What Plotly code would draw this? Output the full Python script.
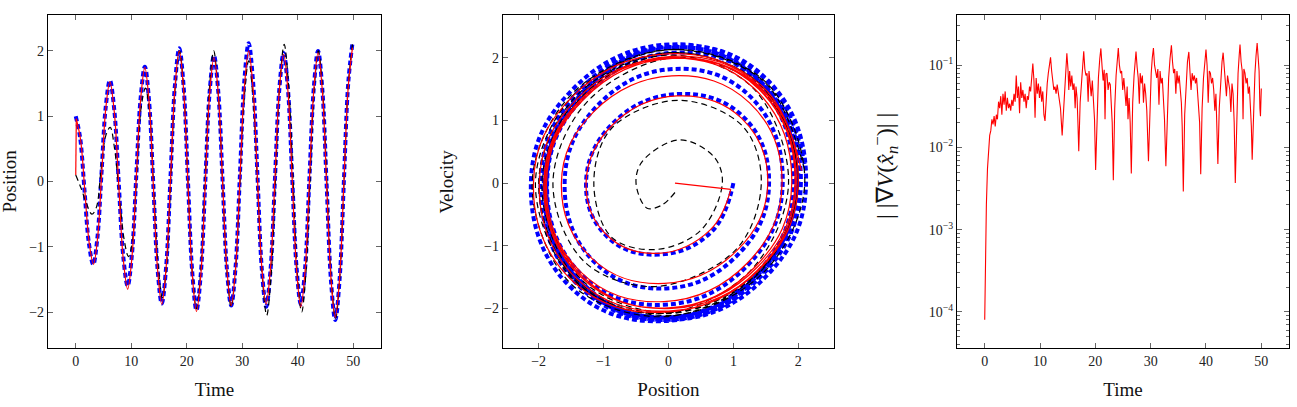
import plotly.graph_objects as go

# ---------------- data ----------------
# true trajectory (blue, thick dashed)
true_time = [0, 0.79, 1.58, 2.36, 3.15,
             3.9, 4.65, 5.4, 6.15,
             6.95, 7.75, 8.55, 9.35,
             10.13, 10.9, 11.68, 12.45,
             13.21, 13.98, 14.74, 15.5,
             16.29, 17.08, 17.86, 18.65,
             19.43, 20.2, 20.98, 21.75,
             22.54, 23.33, 24.11, 24.9,
             25.68, 26.45, 27.23, 28.0,
             28.79, 29.58, 30.36, 31.15,
             31.94, 32.73, 33.51, 34.3,
             35.09, 35.88, 36.66, 37.45,
             38.23, 39.0, 39.78, 40.55,
             41.33, 42.1, 42.88, 43.65,
             44.43, 45.2, 45.98, 46.75,
             47.53, 48.3, 49.08, 49.85]
true_pos = [1.0, 0.67, -0.14, -0.94, -1.27,
            -0.86, 0.14, 1.14, 1.55,
            1.09, -0.03, -1.14, -1.60,
            -1.11, 0.08, 1.27, 1.76,
            1.23, -0.06, -1.34, -1.87,
            -1.30, 0.09, 1.47, 2.04,
            1.46, 0.04, -1.38, -1.97,
            -1.40, -0.02, 1.36, 1.93,
            1.37, 0.02, -1.34, -1.90,
            -1.31, 0.11, 1.53, 2.12,
            1.53, 0.10, -1.33, -1.92,
            -1.35, 0.03, 1.40, 1.97,
            1.41, 0.05, -1.32, -1.88,
            -1.31, 0.06, 1.43, 2.00,
            1.40, -0.06, -1.52, -2.12,
            -1.50, 0.00, 1.50, 2.12]
true_vel = [0.0, -0.77, -1.14, -0.86, 0.0,
            0.95, 1.42, 1.07, 0.0,
            -1.12, -1.68, -1.26, 0.0,
            1.22, 1.82, 1.37, 0.0,
            -1.30, -1.94, -1.46, 0.0,
            1.38, 2.08, 1.57, 0.0,
            -1.45, -2.18, -1.64, 0.0,
            1.45, 2.17, 1.62, 0.0,
            -1.43, -2.14, -1.60, 0.0,
            1.46, 2.19, 1.64, 0.0,
            -1.46, -2.18, -1.64, 0.0,
            1.45, 2.17, 1.62, 0.0,
            -1.43, -2.14, -1.60, 0.0,
            1.43, 2.16, 1.61, 0.0,
            -1.47, -2.20, -1.65, 0.0,
            1.47, 2.21, 1.65, 0.2]

# prior / predicted trajectory (black, dashed)
prior_time = [0, 0.95, 1.9, 2.9,
              3.7, 4.55, 5.4, 6.2,
              7.0, 7.85, 8.7, 9.5,
              10.25, 11.0, 11.8, 12.55,
              13.3, 14.1, 14.85, 15.6,
              16.4, 17.15, 17.9, 18.7,
              19.45, 20.2, 20.98, 21.75,
              22.53, 23.3, 24.08, 24.85,
              25.63, 26.43, 27.2, 28.0,
              28.79, 29.58, 30.36, 31.15,
              31.96, 32.78, 33.59, 34.4,
              35.19, 35.98, 36.76, 37.55,
              38.34, 39.13, 39.91, 40.7,
              41.45, 42.2, 42.95, 43.7,
              44.48, 45.25, 46.03, 46.8,
              47.56, 48.33, 49.09, 49.85]
prior_pos = [0.10, -0.10, -0.33, -0.50,
             -0.40, 0.17, 0.70, 0.83,
             0.50, -0.20, -0.88, -1.15,
             -0.88, 0.15, 1.15, 1.43,
             1.05, -0.20, -1.30, -1.78,
             -1.25, 0.10, 1.43, 2.00,
             1.41, 0.03, -1.38, -1.95,
             -1.36, 0.03, 1.42, 2.00,
             1.40, 0.04, -1.33, -1.92,
             -1.34, -0.04, 1.29, 1.85,
             1.26, -0.10, -1.44, -2.05,
             -1.44, 0.03, 1.50, 2.10,
             1.47, 0.05, -1.40, -2.00,
             -1.41, 0.00, 1.41, 2.00,
             1.40, -0.05, -1.50, -2.10,
             -1.48, 0.00, 1.48, 2.10]
prior_vel = [-0.15, -0.35, -0.40, 0.0,
             0.35, 0.69, 0.42, 0.0,
             -0.75, -1.06, -0.86, 0.0,
             0.87, 1.32, 0.90, 0.0,
             -1.05, -1.65, -1.25, 0.0,
             1.30, 2.00, 1.50, 0.0,
             -1.40, -2.08, -1.57, 0.0,
             1.40, 2.08, 1.57, 0.0,
             -1.38, -2.06, -1.55, 0.0,
             1.37, 2.04, 1.53, 0.0,
             -1.40, -2.08, -1.57, 0.0,
             1.43, 2.13, 1.61, 0.0,
             -1.42, -2.11, -1.59, 0.0,
             1.40, 2.08, 1.57, 0.0,
             -1.43, -2.13, -1.61, 0.0,
             1.43, 2.13, 1.61, 0.2]

# filtered estimate (red, solid)
est_time = [0, 0.1, 0.87, 1.65, 2.42, 3.2,
            3.94, 4.68, 5.41, 6.15,
            6.95, 7.75, 8.55, 9.35,
            10.13, 10.9, 11.68, 12.45,
            13.21, 13.98, 14.74, 15.5,
            16.29, 17.08, 17.86, 18.65,
            19.43, 20.2, 20.98, 21.75,
            22.54, 23.33, 24.11, 24.9,
            25.68, 26.45, 27.23, 28.0,
            28.79, 29.58, 30.36, 31.15,
            31.94, 32.73, 33.51, 34.3,
            35.09, 35.88, 36.66, 37.45,
            38.23, 39.0, 39.78, 40.55,
            41.33, 42.1, 42.88, 43.65,
            44.43, 45.2, 45.98, 46.75,
            47.53, 48.3, 49.08, 49.85]
est_pos = [0.10, 0.96, 0.64, -0.16, -0.94, -1.27,
           -0.86, 0.13, 1.12, 1.53,
           1.06, -0.06, -1.18, -1.65,
           -1.15, 0.05, 1.25, 1.75,
           1.22, -0.07, -1.35, -1.88,
           -1.31, 0.06, 1.43, 2.00,
           1.41, 0.00, -1.41, -1.99,
           -1.42, -0.05, 1.33, 1.90,
           1.34, 0.00, -1.34, -1.90,
           -1.33, 0.05, 1.43, 2.00,
           1.43, 0.06, -1.31, -1.88,
           -1.32, 0.04, 1.39, 1.95,
           1.38, 0.02, -1.35, -1.92,
           -1.35, 0.03, 1.40, 1.97,
           1.38, -0.06, -1.49, -2.08,
           -1.48, -0.02, 1.44, 2.05]
est_vel = [0.0, -0.10, -0.75, -1.12, -0.84, 0.0,
           0.93, 1.39, 1.04, 0.0,
           -1.07, -1.60, -1.20, 0.0,
           1.14, 1.71, 1.28, 0.0,
           -1.27, -1.89, -1.42, 0.0,
           1.33, 1.99, 1.50, 0.0,
           -1.37, -2.04, -1.53, 0.0,
           1.33, 1.99, 1.50, 0.0,
           -1.33, -1.99, -1.50, 0.0,
           1.35, 2.02, 1.52, 0.0,
           -1.34, -2.00, -1.50, 0.0,
           1.33, 1.99, 1.50, 0.0,
           -1.33, -1.99, -1.50, 0.0,
           1.34, 2.00, 1.50, 0.0,
           -1.38, -2.06, -1.55, 0.0,
           1.38, 2.06, 1.55, 0.2]

# gradient norm ||grad V(x_n^-)||
grad_time = [0, 0.15, 0.3, 0.5, 0.7, 0.9, 1.1, 1.3, 1.5, 1.7, 1.9, 2.1, 2.3, 2.5, 2.7, 2.9,
             3.1, 3.3, 3.5, 3.7, 3.9, 4.1, 4.3, 4.5, 4.7, 4.9, 5.1, 5.3, 5.5, 5.7, 5.9,
             6.1, 6.3, 6.5, 6.7, 6.9, 7.1, 7.3, 7.5, 7.7, 7.9, 8.1, 8.3, 8.5, 8.7, 8.9,
             9.1, 9.3, 9.5, 9.7, 9.9, 10.1, 10.3, 10.5, 10.7, 10.9, 11.1, 11.3, 11.5, 11.7,
             11.9, 12.1, 12.3, 12.5, 12.7, 12.9, 13.1, 13.3, 13.5, 13.7, 14.0,
             14.25, 14.5, 14.7, 14.85, 15.05, 15.2, 15.35, 15.55, 15.75, 15.95, 16.15, 16.35,
             16.5, 16.7, 16.85, 17.0,
             17.25, 17.5, 17.7, 17.9, 18.1, 18.3, 18.5, 18.7, 18.85, 19.05, 19.25, 19.45,
             19.65, 19.85, 20.05,
             20.3, 20.55, 20.8, 21.0, 21.2, 21.4, 21.6, 21.75, 21.9, 22.1, 22.3, 22.5, 22.7,
             22.9, 23.05, 23.25,
             23.5, 23.75, 23.95, 24.15, 24.35, 24.55, 24.75, 24.95, 25.15, 25.35, 25.55,
             25.75, 25.9, 26.1, 26.3, 26.5,
             26.75, 27.0, 27.2, 27.35, 27.55, 27.75, 27.95, 28.1, 28.3, 28.5, 28.7, 28.9,
             29.1, 29.3, 29.6,
             29.85, 30.1, 30.3, 30.5, 30.7, 30.9, 31.1, 31.3, 31.5, 31.7, 31.9, 32.1, 32.3,
             32.5, 32.75,
             33.0, 33.25, 33.5, 33.75, 33.95, 34.15, 34.35, 34.55, 34.75, 34.95, 35.15,
             35.35, 35.55, 35.7, 35.9,
             36.15, 36.4, 36.65, 36.9, 37.1, 37.3, 37.5, 37.7, 37.9, 38.1, 38.3, 38.5,
             38.7, 38.85, 39.05,
             39.3, 39.55, 39.8, 40.0, 40.2, 40.4, 40.6, 40.8, 41.0, 41.2, 41.4, 41.6, 41.8,
             41.95, 42.15,
             42.4, 42.65, 42.9, 43.1, 43.3, 43.5, 43.7, 43.9, 44.1, 44.3, 44.5, 44.7, 44.9,
             45.1, 45.3,
             45.55, 45.8, 46.0, 46.15, 46.35, 46.55, 46.7, 46.85, 47.05, 47.25, 47.45,
             47.65, 47.85, 48.05, 48.2, 48.35,
             48.6, 48.85, 49.05, 49.25, 49.45, 49.6, 49.75, 49.85, 50.0]
grad_norm = [8e-5, 6e-4, 2.0e-3, 5.5e-3, 0.010, 0.014, 0.016, 0.022, 0.019, 0.024, 0.018,
             0.025, 0.022, 0.036, 0.030, 0.042,
             0.025, 0.045, 0.033, 0.048, 0.028, 0.040, 0.030, 0.034, 0.028, 0.038, 0.032,
             0.045, 0.036, 0.075, 0.040,
             0.055, 0.026, 0.062, 0.040, 0.050, 0.036, 0.045, 0.030, 0.042, 0.038, 0.055,
             0.048, 0.075, 0.105, 0.065,
             0.023, 0.070, 0.045, 0.060, 0.040, 0.055, 0.036, 0.048, 0.025, 0.021, 0.045,
             0.060, 0.080, 0.100,
             0.125, 0.085, 0.065, 0.050, 0.055, 0.045, 0.058, 0.048, 0.040, 0.030, 0.014,
             0.030, 0.065, 0.110, 0.140, 0.090, 0.050, 0.085, 0.055, 0.075, 0.050, 0.060,
             0.030, 0.055, 0.040, 0.020, 0.009,
             0.035, 0.070, 0.110, 0.148, 0.090, 0.075, 0.080, 0.036, 0.085, 0.060, 0.042,
             0.065, 0.040, 0.022, 0.0053,
             0.030, 0.070, 0.120, 0.160, 0.100, 0.065, 0.088, 0.022, 0.078, 0.080, 0.050,
             0.062, 0.058, 0.035, 0.020, 0.0040,
             0.030, 0.075, 0.120, 0.162, 0.100, 0.080, 0.085, 0.050, 0.070, 0.045, 0.032,
             0.055, 0.022, 0.040, 0.020, 0.0048,
             0.035, 0.075, 0.120, 0.147, 0.095, 0.070, 0.034, 0.080, 0.060, 0.075, 0.035,
             0.060, 0.045, 0.028, 0.0068,
             0.035, 0.080, 0.125, 0.162, 0.100, 0.085, 0.070, 0.090, 0.033, 0.085, 0.060,
             0.070, 0.040, 0.022, 0.0059,
             0.030, 0.070, 0.120, 0.175, 0.110, 0.080, 0.090, 0.045, 0.085, 0.060, 0.075,
             0.050, 0.035, 0.018, 0.0029,
             0.025, 0.060, 0.110, 0.145, 0.090, 0.050, 0.080, 0.065, 0.075, 0.060, 0.070,
             0.040, 0.032, 0.020, 0.0047,
             0.030, 0.070, 0.120, 0.155, 0.100, 0.035, 0.085, 0.080, 0.060, 0.070, 0.050,
             0.028, 0.045, 0.020, 0.0063,
             0.030, 0.070, 0.110, 0.142, 0.090, 0.065, 0.042, 0.075, 0.060, 0.050, 0.027,
             0.060, 0.045, 0.020, 0.0037,
             0.030, 0.080, 0.130, 0.178, 0.110, 0.085, 0.022, 0.090, 0.080, 0.060, 0.070,
             0.045, 0.055, 0.030, 0.018, 0.0071,
             0.035, 0.080, 0.130, 0.186, 0.120, 0.085, 0.030, 0.024, 0.052]

time_ticks = [0, 10, 20, 30, 40, 50]
state_ticks = [-2, -1, 0, 1, 2]
log_ticks = [1e-4, 1e-3, 1e-2, 1e-1]
log_tick_text = ["10<sup>−4</sup>", "10<sup>−3</sup>", "10<sup>−2</sup>", "10<sup>−1</sup>"]

# ---------------- figure ----------------
BLUE = "#0000ff"
RED = "#ff0000"
BLACK = "#000000"
blue_line = dict(color=BLUE, width=4, dash="5px,3px", shape="spline", smoothing=1.0)
black_line = dict(color=BLACK, width=1.2, dash="6px,4px", shape="spline", smoothing=1.0)
red_line = dict(color=RED, width=1.2, shape="spline", smoothing=1.0)

fig = go.Figure()

# panel 1: position vs time
fig.add_trace(go.Scatter(x=true_time, y=true_pos, mode="lines", line=blue_line,
                         xaxis="x", yaxis="y", name="true"))
fig.add_trace(go.Scatter(x=prior_time, y=prior_pos, mode="lines", line=black_line,
                         xaxis="x", yaxis="y", name="prior"))
fig.add_trace(go.Scatter(x=est_time[:2], y=est_pos[:2], mode="lines",
                         line=dict(color=RED, width=1.2), xaxis="x", yaxis="y", name="estimate"))
fig.add_trace(go.Scatter(x=est_time[1:], y=est_pos[1:], mode="lines", line=red_line,
                         xaxis="x", yaxis="y", name="estimate"))

# panel 2: phase portrait
fig.add_trace(go.Scatter(x=true_pos, y=true_vel, mode="lines",
                         line=dict(blue_line, smoothing=1.2), xaxis="x2", yaxis="y2", name="true"))
fig.add_trace(go.Scatter(x=prior_pos, y=prior_vel, mode="lines",
                         line=dict(black_line, smoothing=1.0), xaxis="x2", yaxis="y2", name="prior"))
fig.add_trace(go.Scatter(x=est_pos[:2], y=est_vel[:2], mode="lines",
                         line=dict(color=RED, width=1.2), xaxis="x2", yaxis="y2", name="estimate"))
fig.add_trace(go.Scatter(x=est_pos[1:], y=est_vel[1:], mode="lines",
                         line=dict(red_line, smoothing=1.2), xaxis="x2", yaxis="y2", name="estimate"))

# panel 3: gradient norm
fig.add_trace(go.Scatter(x=grad_time, y=grad_norm, mode="lines",
                         line=dict(color=RED, width=1.1), xaxis="x3", yaxis="y3", name="grad"))

FONT = "Liberation Serif"
tickfont = dict(family=FONT, size=14, color="#222")
titlefont = dict(family=FONT, size=19, color="#111")
mathfont = dict(family=FONT, size=24, color="#111")

def axis(**kw):
    base = dict(showline=True, linecolor="black", linewidth=1.3, mirror="ticks",
                ticks="inside", ticklen=5, tickwidth=1, tickcolor="#666",
                showgrid=False, zeroline=False, tickfont=tickfont, automargin=False)
    base.update(kw)
    return base

ydom = [0.145, 0.963]
minor_vals = [k * 10.0 ** e for e in range(-5, 0) for k in range(2, 10)]
W = 1297.0
H = 407.0
ymid = (ydom[0] + ydom[1]) / 2

fig.update_layout(
    width=1297, height=407,
    margin=dict(l=0, r=0, t=0, b=0, autoexpand=False),
    paper_bgcolor="white", plot_bgcolor="white",
    showlegend=False,
    xaxis=axis(domain=[0.0370, 0.2938], range=[-5, 55], tickvals=time_ticks,
               anchor="y", title=dict(text="Time", font=titlefont, standoff=14)),
    yaxis=axis(domain=ydom, range=[-2.55, 2.55], tickvals=state_ticks, anchor="x"),
    xaxis2=axis(domain=[0.3878, 0.6430], range=[-2.55, 2.55], tickvals=state_ticks,
                anchor="y2", title=dict(text="Position", font=titlefont, standoff=14)),
    yaxis2=axis(domain=ydom, range=[-2.63, 2.68], tickvals=state_ticks, anchor="x2"),
    xaxis3=axis(domain=[0.7379, 0.9938], range=[-5, 55], tickvals=time_ticks,
                anchor="y3", title=dict(text="Time", font=titlefont, standoff=14)),
    yaxis3=axis(domain=ydom, type="log", range=[-4.44, -0.39], tickvals=log_ticks,
                ticktext=log_tick_text, anchor="x3",
                minor=dict(tickvals=minor_vals, ticks="inside", ticklen=3,
                           tickcolor="#666", showgrid=False)),
    annotations=[
        dict(text="Position", xref="paper", yref="paper", x=10 / W, y=ymid,
             xanchor="center", yanchor="middle", textangle=-90, showarrow=False,
             font=titlefont),
        dict(text="Velocity", xref="paper", yref="paper", x=447 / W, y=ymid,
             xanchor="center", yanchor="middle", textangle=-90, showarrow=False,
             font=titlefont),
        dict(text="| |∇<i>V</i>(<i>x̂</i><sub><i>n</i></sub><sup>−</sup>)| |",
             xref="paper", yref="paper", x=885 / W, y=1 - 166 / H,
             xanchor="center", yanchor="middle", textangle=-90, showarrow=False,
             font=mathfont),
    ],
)

fig.write_html("out.html")
